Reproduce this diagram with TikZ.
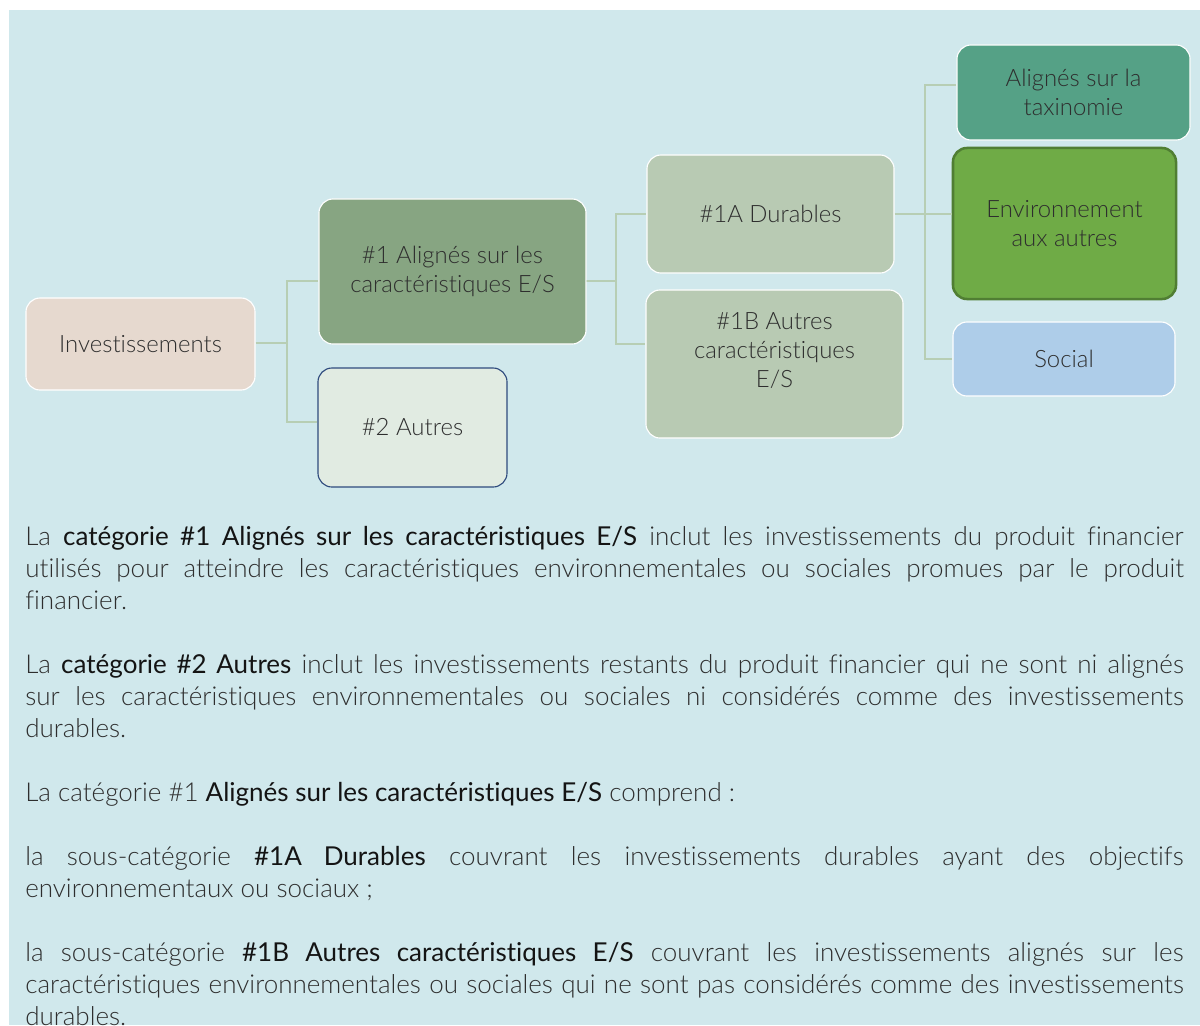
\documentclass[tikz,border=0pt]{standalone}
\usepackage{fontspec}
\setmainfont{Lato}[UprightFont=* Light, BoldFont=*, RawFeature=-liga]
\usetikzlibrary{calc}

\definecolor{bgblue}{HTML}{D0E8EC}
\definecolor{txt}{HTML}{2E2E2E}
\definecolor{linkc}{HTML}{B7CEB4}
\definecolor{invfill}{HTML}{E6D9CF}
\definecolor{alfill}{HTML}{87A582}
\definecolor{otfill}{HTML}{E1EBE2}
\definecolor{otline}{HTML}{2E4A7D}
\definecolor{subfill}{HTML}{B8CAB3}
\definecolor{taxfill}{HTML}{55A186}
\definecolor{envfill}{HTML}{6FAB46}
\definecolor{envline}{HTML}{507E33}
\definecolor{socfill}{HTML}{AECDE9}

\newcommand{\strongpart}[1]{{\bfseries\color{black!92}#1}}

\begin{document}
\begin{tikzpicture}[
  x=0.025cm, y=-0.025cm,
  every node/.style={font=\fontsize{17}{20.6}\selectfont, text=txt, align=center},
  box/.style={draw=white, line width=0.8pt, rounded corners=10pt, inner sep=2pt},
  link/.style={draw=linkc, line width=1.1pt}
]
\useasboundingbox (0,0) rectangle (1200,1025);
\fill[bgblue] (9,10) rectangle (1200,1025);

\node[box, fill=invfill, minimum width=5.725cm, minimum height=2.3cm] (inv) at (140.5,344) {Investissements};

\node[box, fill=alfill, minimum width=6.675cm, minimum height=3.625cm] (a1) at (452.5,271.5) {\#1 Alignés sur les\\caractéristiques E/S};
\node[box, draw=otline, fill=otfill, minimum width=4.725cm, minimum height=2.975cm] (o2) at (412.5,427.5) {\#2 Autres};

\node[box, fill=subfill, minimum width=6.175cm, minimum height=2.95cm] (d1a) at (770.5,214) {\#1A Durables};
\node[box, fill=subfill, minimum width=6.425cm, minimum height=3.7cm, text depth=0.72cm] (d1b) at (774.5,364) {\#1B Autres\\caractéristiques\\E/S};

\node[box, fill=taxfill, minimum width=5.825cm, minimum height=2.375cm] (tax) at (1073.5,92.5) {Alignés sur la\\taxinomie};
\node[box, draw=envline, line width=1.8pt, fill=envfill, minimum width=5.575cm, minimum height=3.775cm] (env) at (1064.5,223.5) {Environnement\\aux autres};
\node[box, fill=socfill, minimum width=5.55cm, minimum height=1.85cm] (soc) at (1064,359) {Social};

% connectors
\coordinate (j1) at (287,343);
\coordinate (j2) at (616,281);
\coordinate (j3) at (925,214);
\draw[link] ($(inv.east)+(0,-1)$) -- (j1);
\draw[link] (j1) |- ($(a1.west)+(0,9.5)$);
\draw[link] (j1) |- ($(o2.west)+(0,-5.5)$);
\draw[link] ($(a1.east)+(0,9.5)$) -- (j2);
\draw[link] (j2) |- (d1a.west);
\draw[link] (j2) |- ($(d1b.west)+(0,-20)$);
\draw[link] (d1a.east) -- (j3);
\draw[link] (j3) -- ($(env.west)+(0,-9.5)$);
\draw[link] (j3) |- ($(tax.west)+(0,-7.5)$);
\draw[link] (j3) |- (soc.west);

% notes under the chart
\node[anchor=north west, inner sep=0pt, text width=28.95cm, align=justify,
      font=\fontsize{18.5}{22.76}\selectfont] (notes) at (25,526) {%
\parskip=22.76pt \hyphenpenalty=10000 \tolerance=9999
La \strongpart{catégorie \#1 Alignés sur les caractéristiques E/S} inclut les investissements du produit financier \linebreak
utilisés pour atteindre les caractéristiques environnementales ou sociales promues par le produit \linebreak
financier.\par
La \strongpart{catégorie \#2 Autres} inclut les investissements restants du produit financier qui ne sont ni alignés \linebreak
sur les caractéristiques environnementales ou sociales ni considérés comme des investissements \linebreak
durables.\par
La catégorie \#1 \strongpart{Alignés sur les caractéristiques E/S} comprend :\par
la sous-catégorie \strongpart{\#1A Durables} couvrant les investissements durables ayant des objectifs \linebreak
environnementaux ou sociaux ;\par
la sous-catégorie \strongpart{\#1B Autres caractéristiques E/S} couvrant les investissements alignés sur les \linebreak
caractéristiques environnementales ou sociales qui ne sont pas considérés comme des investissements \linebreak
durables.\par};
\end{tikzpicture}
\end{document}
